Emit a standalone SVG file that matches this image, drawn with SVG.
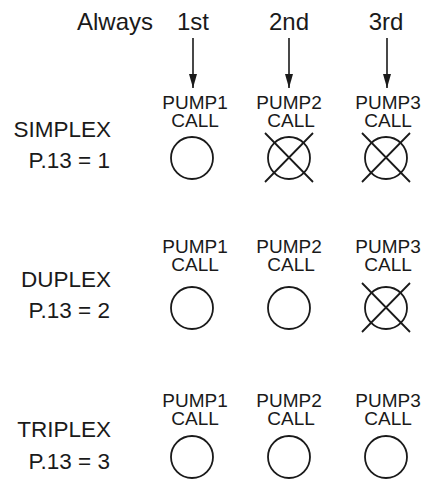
<svg xmlns="http://www.w3.org/2000/svg" width="436" height="480" viewBox="0 0 436 480">
<style>
text{font-family:"Liberation Sans",Arial,sans-serif;fill:#1a1a1a}
.hd{font-size:24px}
.lb{font-size:19px;text-anchor:middle}
.rl{font-size:22.5px;text-anchor:end}
.c{fill:none;stroke:#1a1a1a;stroke-width:1.8}
.x{stroke:#1a1a1a;stroke-width:1.8}
.ar{stroke:#1a1a1a;stroke-width:1.6}
</style>
<defs>
<marker id="ah2" viewBox="0 0 14 8" refX="14" refY="4" markerWidth="14" markerHeight="8" markerUnits="userSpaceOnUse" orient="auto" preserveAspectRatio="none">
<path d="M0,0 L14,4 L0,8 z" fill="#1a1a1a"/>
</marker>
</defs>
<g id="header">
<text class="hd" x="77" y="30">Always</text>
<text class="hd" x="193" y="30" text-anchor="middle">1st</text>
<text class="hd" x="289" y="30" text-anchor="middle">2nd</text>
<text class="hd" x="386" y="30" text-anchor="middle">3rd</text>
</g>
<g id="connectors">
<line class="ar" x1="193" y1="38" x2="193" y2="88" marker-end="url(#ah2)"/>
<line class="ar" x1="289" y1="38" x2="289" y2="88" marker-end="url(#ah2)"/>
<line class="ar" x1="387" y1="38" x2="387" y2="88" marker-end="url(#ah2)"/>
</g>
<g id="simplex">
<text class="rl" x="111" y="137">SIMPLEX</text>
<text class="rl" x="110" y="168">P.13 = 1</text>
<g id="s-p1"><text class="lb" x="195" y="109">PUMP1</text><text class="lb" x="195" y="127">CALL</text><circle class="c" cx="192" cy="158" r="21"/></g>
<g id="s-p2"><text class="lb" x="289" y="109">PUMP2</text><text class="lb" x="291" y="127">CALL</text><circle class="c" cx="289" cy="158" r="21"/><path class="x" d="M265,133 L313,182 M313,133 L265,182"/></g>
<g id="s-p3"><text class="lb" x="388" y="109">PUMP3</text><text class="lb" x="388" y="127">CALL</text><circle class="c" cx="386" cy="158" r="21"/><path class="x" d="M362,133 L410,182 M410,133 L362,182"/></g>
</g>
<g id="duplex">
<text class="rl" x="111" y="287">DUPLEX</text>
<text class="rl" x="110" y="318">P.13 = 2</text>
<g id="d-p1"><text class="lb" x="195" y="253">PUMP1</text><text class="lb" x="195" y="271">CALL</text><circle class="c" cx="192" cy="308" r="21"/></g>
<g id="d-p2"><text class="lb" x="289" y="253">PUMP2</text><text class="lb" x="291" y="271">CALL</text><circle class="c" cx="289" cy="308" r="21"/></g>
<g id="d-p3"><text class="lb" x="388" y="253">PUMP3</text><text class="lb" x="388" y="271">CALL</text><circle class="c" cx="386" cy="308" r="21"/><path class="x" d="M362,283 L410,332 M410,283 L362,332"/></g>
</g>
<g id="triplex">
<text class="rl" x="111" y="437">TRIPLEX</text>
<text class="rl" x="110" y="469">P.13 = 3</text>
<g id="t-p1"><text class="lb" x="195" y="407">PUMP1</text><text class="lb" x="195" y="425">CALL</text><circle class="c" cx="192" cy="457" r="21"/></g>
<g id="t-p2"><text class="lb" x="289" y="407">PUMP2</text><text class="lb" x="291" y="425">CALL</text><circle class="c" cx="289" cy="457" r="21"/></g>
<g id="t-p3"><text class="lb" x="388" y="407">PUMP3</text><text class="lb" x="388" y="425">CALL</text><circle class="c" cx="386" cy="457" r="21"/></g>
</g>
</svg>
